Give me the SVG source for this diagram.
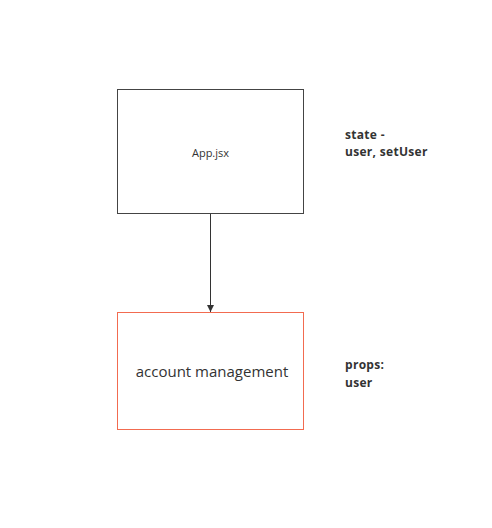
<svg xmlns="http://www.w3.org/2000/svg" width="492" height="528" viewBox="0 0 492 528">
<style>
text{font-family:"Open Sans","Noto Sans",sans-serif;fill:#333}
.lbl{font-size:12px;font-weight:bold;letter-spacing:0.3px}
.box{fill:#fff;stroke-width:1}
</style>
<defs>
<marker id="ah" markerWidth="8" markerHeight="8" refX="7" refY="4" orient="auto" markerUnits="userSpaceOnUse" viewBox="0 0 8 8">
<path d="M0,0.5 L7,4 L0,7.5 Z" fill="#333"/>
</marker>
</defs>
<rect width="492" height="528" fill="#fff"/>
<g id="connectors">
<line x1="210.5" y1="214" x2="210.5" y2="312" stroke="#333" stroke-width="1" marker-end="url(#ah)"/>
</g>
<g id="app">
<rect class="box" x="117.5" y="89.5" width="186" height="124" stroke="#444"/>
<text x="210.5" y="157" font-size="11" text-anchor="middle">App.jsx</text>
</g>
<g id="account">
<rect class="box" x="117.5" y="312.5" width="186" height="117" stroke="#f26b50"/>
<text x="212" y="377" font-size="15" text-anchor="middle">account management</text>
</g>
<g id="state-note">
<text class="lbl" x="345" y="139">state -</text>
<text class="lbl" x="345" y="156">user, setUser</text>
</g>
<g id="props-note">
<text class="lbl" x="345" y="369">props:</text>
<text class="lbl" x="345" y="387">user</text>
</g>
</svg>
